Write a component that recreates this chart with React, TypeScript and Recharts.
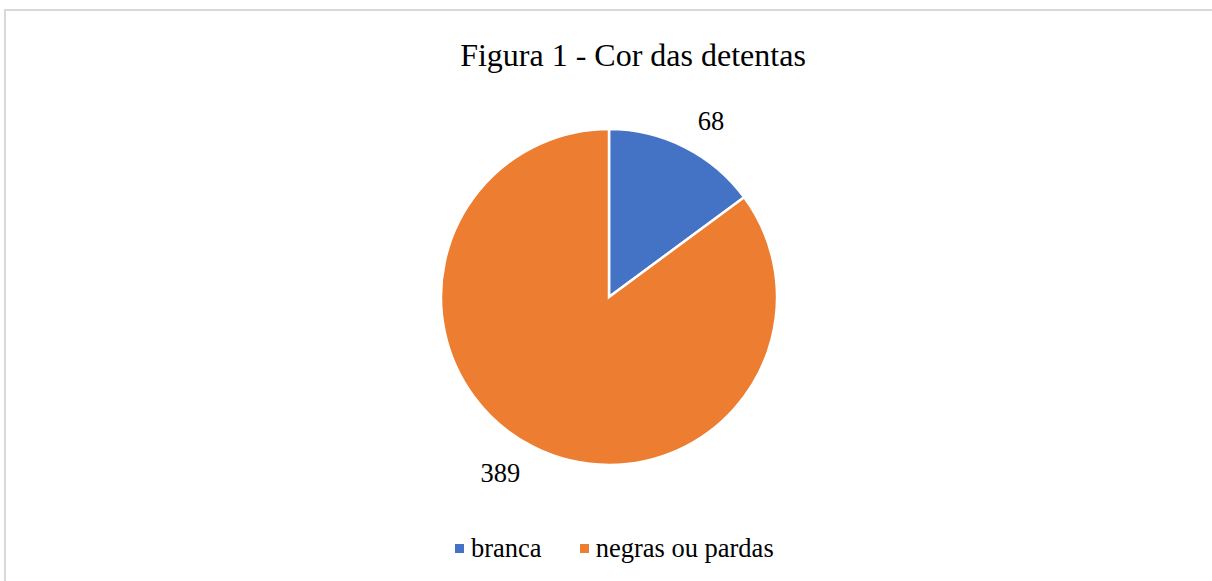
import React from "react";
import { PieChart, Pie, Cell, Legend } from "recharts";

const categories = ["branca", "negras ou pardas"];
const values = [68, 389];
const colors = ["#4472C4", "#ED7D31"];

const data = categories.map((name, i) => ({ name, value: values[i] }));

const FONT = '"Liberation Serif", "Times New Roman", serif';
const RAD = Math.PI / 180;

const renderLabel = (props: any) => {
  const { cx, cy, midAngle, value } = props;
  const r = 197;
  const x = cx + r * Math.cos(-midAngle * RAD);
  const y = cy + r * Math.sin(-midAngle * RAD);
  return (
    <text
      x={x}
      y={y}
      fill="#000"
      fontFamily={FONT}
      fontSize={26.5}
      textAnchor={x > cx ? "start" : "end"}
      dominantBaseline="central"
    >
      {value}
    </text>
  );
};

const renderLegend = (props: any) => {
  const { payload } = props;
  return (
    <div style={{ display: "flex", alignItems: "center", fontFamily: FONT, fontSize: 26.5, color: "#000" }}>
      {payload.map((p: any, i: number) => (
        <div key={i} style={{ display: "flex", alignItems: "center", marginRight: i === 0 ? 38 : 0 }}>
          <span style={{ display: "inline-block", width: 9, height: 9, background: p.color, marginRight: 7 }} />
          <span style={{ lineHeight: "30px" }}>{p.value}</span>
        </div>
      ))}
    </div>
  );
};

export default function App() {
  return (
    <div style={{ position: "fixed", left: 0, top: 0, width: 1212, height: 581, overflow: "hidden", background: "#fff" }}>
      <div
        style={{
          position: "absolute",
          left: 4,
          top: 9,
          width: 1240,
          height: 620,
          border: "2px solid #d9d9d9",
          boxSizing: "border-box",
        }}
      />
      <div
        style={{
          position: "absolute",
          left: 0,
          width: 1266,
          top: 38,
          textAlign: "center",
          fontFamily: FONT,
          fontSize: 32,
          lineHeight: "34px",
          color: "#000",
        }}
      >
        Figura 1 - Cor das detentas
      </div>
      <div style={{ position: "absolute", left: 0, top: 0 }}>
        <PieChart width={1212} height={581} margin={{ top: 0, right: 0, bottom: 0, left: 0 }}>
          <Pie
            data={data}
            dataKey="value"
            nameKey="name"
            cx={609}
            cy={297}
            outerRadius={168}
            startAngle={90}
            endAngle={-270}
            stroke="#fff"
            strokeWidth={2.5}
            label={renderLabel}
            labelLine={false}
            isAnimationActive={false}
          >
            {data.map((d, i) => (
              <Cell key={d.name} fill={colors[i]} />
            ))}
          </Pie>
          <Legend
            content={renderLegend}
            wrapperStyle={{ position: "absolute", left: 455, top: 533, width: "auto" }}
          />
        </PieChart>
      </div>
    </div>
  );
}
